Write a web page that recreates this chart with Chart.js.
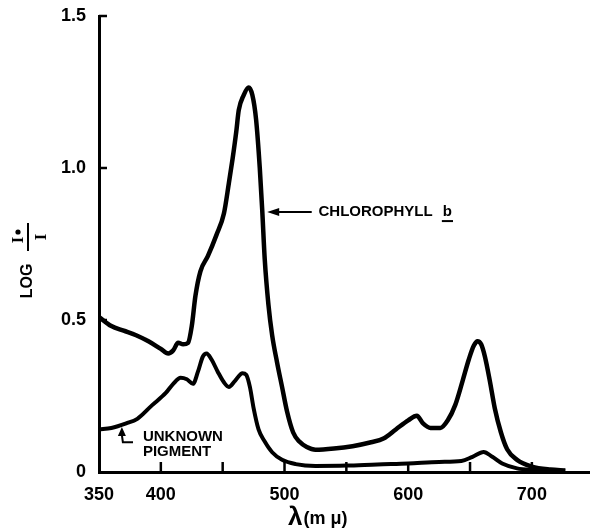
<!DOCTYPE html>
<html><head><meta charset="utf-8">
<script src="https://cdn.jsdelivr.net/npm/chart.js@4"></script>
<style>html,body{margin:0;padding:0;background:#fff}#wrap{width:590px;height:528px}</style>
</head><body><div id="wrap"><canvas id="c" width="590" height="528"></canvas></div>
<script>
// ---- data ----
const wavelengthsChl = [350,360,370,380,390,400,406,410,414,418,422,425,428,432,438,445,451,455,458,461,463,467,471,474,477,480,482,484,487,490,494,498,502,507,512,518,525,540,555,570,580,590,600,607,612,618,626,632,638,644,649,653,656,659,662,666,670,675,680,688,700,715,727];
const chlorophyllB  = [0.51,0.48,0.465,0.45,0.43,0.405,0.39,0.40,0.425,0.42,0.425,0.48,0.58,0.66,0.71,0.78,0.85,0.95,1.03,1.12,1.19,1.24,1.265,1.24,1.16,1.00,0.86,0.70,0.55,0.45,0.36,0.28,0.20,0.13,0.10,0.082,0.073,0.077,0.085,0.098,0.11,0.14,0.17,0.185,0.16,0.145,0.145,0.17,0.22,0.30,0.37,0.415,0.43,0.42,0.38,0.30,0.21,0.13,0.075,0.04,0.018,0.008,0.005];
const wavelengthsUnk = [350,360,372,381,393,404,410,416,421,426,430,434,437,441,446,451,455,460,466,469,472,475,479,484,490,498,509,525,550,575,600,625,643,652,661,668,676,688,700,727];
const unknownPigment = [0.14,0.145,0.16,0.175,0.22,0.26,0.29,0.31,0.305,0.29,0.33,0.38,0.39,0.37,0.33,0.295,0.28,0.30,0.325,0.32,0.28,0.21,0.14,0.10,0.065,0.04,0.026,0.02,0.021,0.025,0.028,0.033,0.036,0.05,0.066,0.05,0.028,0.012,0.007,0.004];
const xTickValues = [350,400,450,500,550,600,650,700];
const xTickLabels = ['350','400','','500','','600','','700'];
const yTickValues = [0,0.5,1.0,1.5];
const yTickLabels = ['0','0.5','1.0','1.5'];
const seriesNames = ['CHLOROPHYLL b','UNKNOWN PIGMENT'];

const FONT = "'Liberation Sans', Arial, sans-serif";
const SERIF = "'Liberation Serif', 'DejaVu Serif', serif";

const decor = {
  id: 'decor',
  afterDraw(chart) {
    const ctx = chart.ctx, xs = chart.scales.x, ys = chart.scales.y;
    const bottom = ys.getPixelForValue(0), left = xs.getPixelForValue(350);
    ctx.save();
    ctx.strokeStyle = '#000'; ctx.fillStyle = '#000';
    // inward ticks
    ctx.lineWidth = 2.5;
    xTickValues.slice(1).forEach(v => {
      const px = xs.getPixelForValue(v);
      ctx.beginPath(); ctx.moveTo(px, bottom); ctx.lineTo(px, bottom - 10); ctx.stroke();
    });
    yTickValues.slice(1).forEach(v => {
      const py = ys.getPixelForValue(v);
      ctx.beginPath(); ctx.moveTo(left, py); ctx.lineTo(left + 8, py); ctx.stroke();
    });
    // y title: LOG  I0/I (rotated)
    ctx.save();
    ctx.translate(28, 281); ctx.rotate(-Math.PI / 2);
    ctx.font = 'bold 16px ' + FONT; ctx.textAlign = 'center'; ctx.textBaseline = 'middle';
    ctx.fillText('LOG', 0, 0);
    ctx.restore();
    ctx.save();
    ctx.translate(28, 237); ctx.rotate(-Math.PI / 2);
    ctx.lineWidth = 2;
    ctx.beginPath(); ctx.moveTo(-14, 0); ctx.lineTo(14, 0); ctx.stroke();
    ctx.font = 'bold 17px ' + SERIF; ctx.textAlign = 'center'; ctx.textBaseline = 'alphabetic';
    ctx.fillText('I', -3, -5);
    ctx.beginPath(); ctx.arc(5, -10, 2.6, 0, Math.PI * 2); ctx.fill();
    ctx.textBaseline = 'top';
    ctx.fillText('I', 0, 5);
    ctx.restore();
    // x title
    ctx.textBaseline = 'alphabetic'; ctx.textAlign = 'left';
    ctx.font = 'bold 26px ' + FONT;
    const lx = 288, ly = 525;
    ctx.fillText('\u03bb', lx, ly);
    const lw = ctx.measureText('\u03bb').width;
    ctx.font = 'bold 18px ' + FONT;
    ctx.fillText('(m \u03bc)', lx + lw + 1, ly - 1);
    // Chlorophyll b annotation
    const tipX = xs.getPixelForValue(486), tipY = ys.getPixelForValue(0.855);
    const tailX = xs.getPixelForValue(522);
    ctx.lineWidth = 2;
    ctx.beginPath(); ctx.moveTo(tipX + 8, tipY); ctx.lineTo(tailX, tipY); ctx.stroke();
    ctx.beginPath(); ctx.moveTo(tipX, tipY); ctx.lineTo(tipX + 12, tipY - 4); ctx.lineTo(tipX + 12, tipY + 4); ctx.closePath(); ctx.fill();
    ctx.font = 'bold 15px ' + FONT; ctx.textBaseline = 'middle';
    const tx = xs.getPixelForValue(527.5);
    ctx.fillText('CHLOROPHYLL', tx, tipY);
    const cw = ctx.measureText('CHLOROPHYLL ').width + 6;
    ctx.fillText('b', tx + cw, tipY);
    const bw = ctx.measureText('b').width;
    ctx.beginPath(); ctx.moveTo(tx + cw - 1, tipY + 9); ctx.lineTo(tx + cw + bw + 1, tipY + 9); ctx.stroke();
    // Unknown pigment annotation
    const ux = xs.getPixelForValue(368.5), uy = ys.getPixelForValue(0.148);
    const by = ys.getPixelForValue(0.098), bx = xs.getPixelForValue(377.5);
    ctx.beginPath(); ctx.moveTo(ux, uy); ctx.lineTo(ux - 4, uy + 9); ctx.lineTo(ux + 4, uy + 9); ctx.closePath(); ctx.fill();
    ctx.beginPath(); ctx.moveTo(ux, uy + 8); ctx.lineTo(ux + 1, by); ctx.lineTo(bx, by); ctx.stroke();
    ctx.font = 'bold 15px ' + FONT; ctx.textBaseline = 'middle';
    const px0 = xs.getPixelForValue(385.5);
    ctx.fillText('UNKNOWN', px0, ys.getPixelForValue(0.115));
    ctx.fillText('PIGMENT', px0, ys.getPixelForValue(0.065));
    ctx.restore();
  }
};

const toPts = (xs, ys) => xs.map((x, i) => ({x, y: ys[i]}));

new Chart(document.getElementById('c'), {
  type: 'line',
  data: {
    datasets: [
      {label: seriesNames[0], data: toPts(wavelengthsChl, chlorophyllB), borderColor: '#000', borderWidth: 4.5, pointRadius: 0, cubicInterpolationMode: 'monotone', fill: false},
      {label: seriesNames[1], data: toPts(wavelengthsUnk, unknownPigment), borderColor: '#000', borderWidth: 4, pointRadius: 0, cubicInterpolationMode: 'monotone', fill: false}
    ]
  },
  options: {
    responsive: false, animation: false, devicePixelRatio: 1,
    layout: {padding: {top: 16, right: 0, left: 0, bottom: 0}},
    plugins: {legend: {display: false}, tooltip: {enabled: false}},
    scales: {
      x: {
        type: 'linear', min: 350, max: 747,
        afterBuildTicks: s => { s.ticks = xTickValues.map(v => ({value: v})); },
        afterFit: s => { s.height = 56; },
        ticks: {autoSkip: false, maxRotation: 0, padding: 4, color: '#000', font: {family: FONT, size: 18, weight: 'bold'},
          callback: v => xTickLabels[xTickValues.indexOf(v)] ?? ''},
        grid: {display: false},
        border: {display: true, color: '#000', width: 3}
      },
      y: {
        type: 'linear', min: 0, max: 1.5,
        afterBuildTicks: s => { s.ticks = yTickValues.map(v => ({value: v})); },
        afterFit: s => { s.width = 99; },
        ticks: {padding: 5, color: '#000', font: {family: FONT, size: 18, weight: 'bold'},
          callback: v => yTickLabels[yTickValues.indexOf(v)] ?? ''},
        grid: {display: false},
        border: {display: true, color: '#000', width: 3}
      }
    }
  },
  plugins: [decor]
});
</script>
</body></html>
